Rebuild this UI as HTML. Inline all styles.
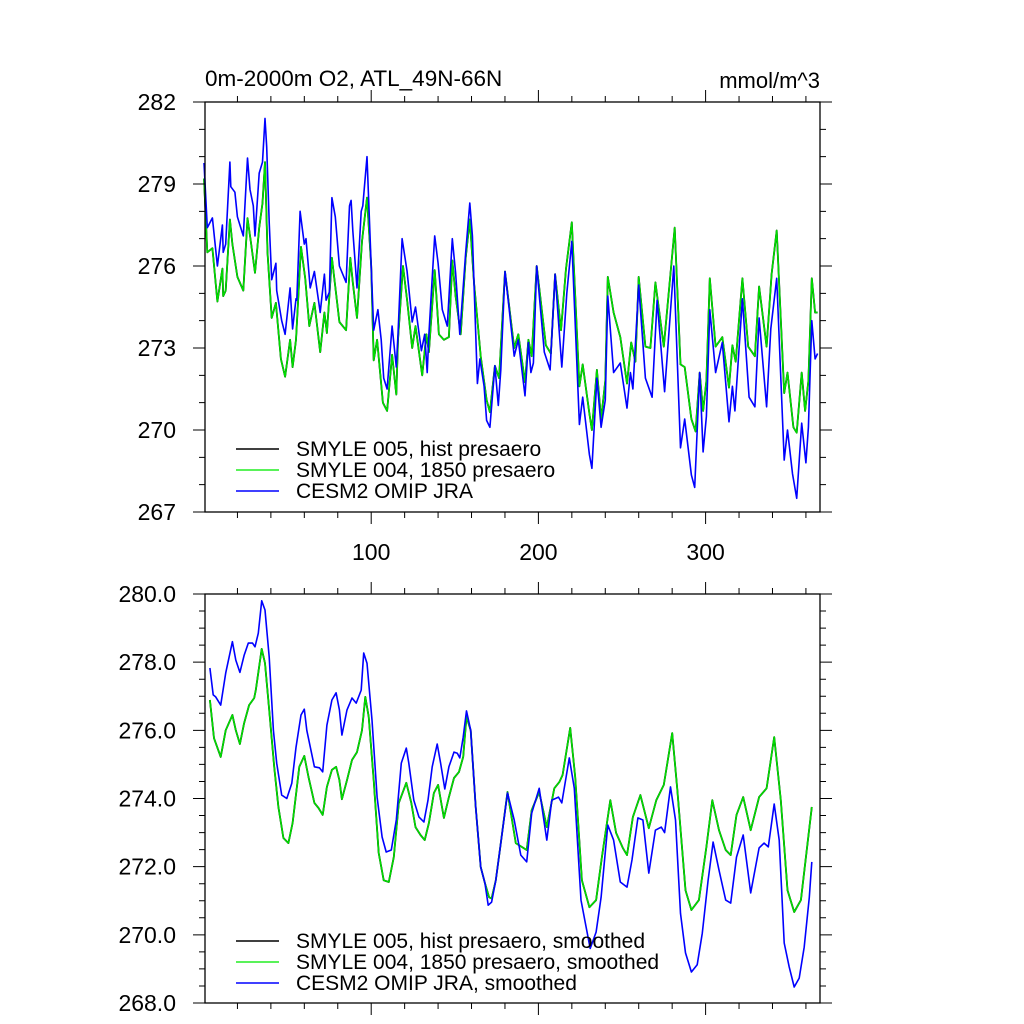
<!DOCTYPE html>
<html><head><meta charset="utf-8"><style>
html,body{margin:0;padding:0;background:#fff;}
svg{display:block;font-family:"Liberation Sans",sans-serif;}
</style></head><body>
<svg id="chart" width="1024" height="1024" viewBox="0 0 1024 1024" xmlns="http://www.w3.org/2000/svg">
<rect width="1024" height="1024" fill="#fff"/>
<text x="205" y="86" font-size="22.5">0m-2000m O2, ATL_49N-66N</text>
<text x="820" y="88" font-size="22" text-anchor="end">mmol/m^3</text>
<g id="top"></g>
<g id="bot"></g>
</svg>
<script>
// ---- Top panel data (day, value) ----
const cesmTopDays=[0,2,5,8,11,11.5,13,15.5,16,18.5,20,21.5,23.5,26,27.5,29.5,30.5,33,35,36.5,37.5,39,40.5,43,43.5,46.5,48.5,51.5,53,55,55.5,57.5,60,61,63.5,66,69.5,72,73,75,76.5,78.5,81,85,87,88,89,91.5,94,95,97.5,100,101.5,104,106,107.5,109.5,112.5,115,116,118.5,121.5,124.5,126.5,130,132,133.5,134.5,138,140,142.5,145.5,148.5,150.5,153,156.5,159,160.5,163.5,165,167.5,169,171,174,176,177.5,180,182.5,185.5,188,192,194,195.5,197,199,203.5,207,210,214,217,220,224.5,226.5,230.5,232,235,237.5,240,241.5,245,249,253,255,256.5,260,264,268,271,275.5,281,285,287.5,291.5,293.5,296.5,298.5,300.5,302.5,306,310,314,316,317.5,322,326,329.5,332,336.5,339,342.5,347,349,352,354.5,357.5,360,361.5,363.5,365.5,367];
const cesmTopVals=[279.77,277.4,277.76,276.0,277.5,276.5,276.8,279.8,278.9,278.7,277.8,277.5,277.1,279.95,278.8,278.2,277.1,279.4,279.8,281.4,280.35,277.6,275.5,276.1,275.1,274.0,273.5,275.2,273.7,274.8,274.75,278.0,276.8,277.0,275.2,275.8,274.3,275.7,274.75,275.05,278.5,277.8,276.0,275.4,278.2,278.4,277.3,275.2,278.0,278.2,280.0,276.0,273.65,274.4,273.3,271.9,271.5,273.8,272.3,273.5,277.0,275.8,273.95,274.5,272.9,273.5,272.1,273.5,277.1,276.1,274.4,273.8,277.0,275.75,273.5,276.5,278.3,277.1,271.7,272.6,271.6,270.35,270.1,272.35,270.9,272.2,275.8,274.45,272.7,273.3,271.25,273.2,272.1,272.45,276.0,272.85,272.2,275.7,272.3,275.0,276.9,270.2,271.2,269.1,268.6,271.9,270.1,271.1,274.9,272.1,272.45,270.8,272.1,271.5,275.3,271.9,271.2,274.75,271.4,276.0,269.35,270.4,268.35,267.9,272.1,269.2,270.5,274.4,272.1,273.2,270.3,271.6,270.7,274.8,271.2,270.85,274.1,270.85,273.7,275.55,268.9,270.0,268.4,267.5,270.25,268.8,270.1,274.0,272.6,272.8];
const smyle004TopDays=[0,2,5,8,11,11.5,13,15.5,17,20,23.5,26,28,30.5,33,35,36.5,38,40.5,43,46,48.5,51.5,53,55,58,60.5,63,66,69.5,72,73.5,76.5,81,85,87.5,89,91.5,94.5,97.5,100,101.5,103.5,107,109.5,112.5,115,116,119,121.5,124.5,126.5,130.5,133,134.5,138,140.5,143.5,146.5,148.5,150.5,153.5,156.5,159,161.5,165.5,169,171,174,176.5,180,185.5,188,192,194,196,199,204.5,207.5,210,213.5,216.5,220,224.5,226.5,230.5,232,235,237.5,240,241.5,245,249,253,255.5,258,260,264,267,270,275,281.5,285,287.5,291.5,294,296.5,298.5,300.5,302.5,306,310,314,316,318,322,325.5,329.5,332,336.5,339.5,342.5,347,349,352.5,354.5,357.5,359.5,361.5,363.5,365.5,367];
const smyle004TopVals=[279.2,276.5,276.65,274.7,275.9,274.9,275.1,277.7,276.8,275.6,275.1,277.75,276.9,275.75,277.4,278.3,279.8,276.5,274.1,274.65,272.6,271.95,273.3,272.3,273.3,276.7,275.55,273.8,274.65,272.85,274.3,273.55,276.3,273.95,273.65,276.3,275.4,274.1,276.9,278.5,276.0,272.55,273.3,271.0,270.7,272.75,271.3,273.3,276.0,274.75,273.0,273.8,272.0,273.5,272.85,275.85,273.5,273.3,273.4,276.2,274.9,273.5,276.3,277.7,275.4,272.7,271.1,270.65,272.35,271.9,275.8,273.0,273.5,271.75,273.3,272.7,276.0,273.1,272.8,275.7,273.65,275.9,277.6,271.6,272.4,270.6,270.0,272.2,270.4,271.8,275.6,274.3,273.4,271.7,273.2,272.5,275.6,273.05,273.0,275.4,273.05,277.4,272.4,272.3,270.4,269.95,272.1,270.7,271.8,275.55,273.05,273.4,271.55,273.1,272.5,275.55,273.05,272.7,275.25,273.05,275.7,277.3,271.35,272.1,270.1,269.9,272.1,270.7,271.8,275.55,274.3,274.3];
const smyle005TopVals=smyle004TopVals.slice();
// ---- Bottom panel (smoothed) ----
const cesmBotDays=[3.5,5.5,7,10,13,17,19,21.5,24,26.5,29,30.5,32.5,34.5,36.5,39,41.5,43.5,46.5,49.5,52.5,55,58,60,61.5,66,69,71,73.5,76.5,79,81,82.5,85.5,88.5,91,94,95.5,97.5,100.5,103.5,106.5,109,112,115,118,121,122.5,125.5,128.5,131.5,134,136.5,139.5,141.5,144,146.5,149.5,151.5,153,155,157,159.5,162.5,165.5,168,170,172,174.5,177.5,181.5,185.5,189.5,193,196,200.5,205,208,212,214,218.5,221.5,225.5,228.5,231,234.5,237.5,241.5,245,249,253,256,259.5,262.5,266,270,273.5,275.5,279,282,285,288,291.5,295,298,301.5,304.5,308,312,315,318.5,322.5,327,332,335,337.5,341,344,347,350,353,356,359,362,363.5];
const cesmBotVals=[277.83,277.04,276.98,276.74,277.68,278.6,278.06,277.7,278.2,278.56,278.56,278.45,278.85,279.8,279.53,278.15,276.0,275.04,274.1,274.0,274.45,275.5,276.45,276.62,276.0,274.93,274.9,274.78,276.15,276.89,277.1,276.6,275.86,276.6,276.95,276.8,277.18,278.27,277.97,276.3,274.04,272.87,272.43,272.49,273.37,275.04,275.48,275.04,273.95,273.46,273.31,273.95,274.93,275.6,275.04,274.28,274.93,275.36,275.33,275.19,275.8,276.57,276.0,273.75,271.99,271.52,270.87,270.96,271.6,272.69,274.16,273.37,272.34,272.14,273.57,274.3,272.78,273.95,274.04,273.87,275.19,274.3,271.02,270.23,269.6,270.08,271.1,273.22,272.78,271.55,271.4,272.2,273.43,273.37,271.81,273.07,273.16,273.0,274.34,273.37,270.63,269.47,268.91,269.12,270.05,271.6,272.72,271.9,271.02,270.93,272.28,272.93,271.23,272.55,272.69,272.58,273.84,272.78,269.76,269.06,268.47,268.73,269.64,271.1,272.14];
const smyle004BotDays=[3.5,6,10,13,17,19,21.5,24,27,30,31,34.5,36.5,39,42,44.5,47.5,50.5,53,57,60,62.5,66,68.5,71,73.5,76.5,79,81,82.5,85.5,88.5,91.5,94.5,96.5,98.5,101.5,104.5,107.5,110.5,113.5,116.5,121,124,126.5,129.5,132,134.5,137.5,140,143.5,146.5,149.5,152.5,155,157,159.5,162.5,165.5,168,170.5,172,174.5,177.5,181.5,186.5,190,193,196,200.5,205,209.5,212.5,214.5,219,222,226,230.5,234.5,238,243,246.5,250.5,253,256.5,261,266,270.5,275,280,283,288,291.5,296,300.5,304,308,312,315,318.5,322.5,327,332,336.5,341,345,349,353,357,363.5];
const smyle004BotVals=[276.89,275.77,275.22,276.0,276.45,276.0,275.6,276.21,276.74,276.95,277.18,278.39,277.97,276.6,274.93,273.75,272.84,272.69,273.28,274.93,275.25,274.63,273.87,273.72,273.52,274.34,274.84,274.93,274.54,273.98,274.54,275.13,275.36,276.0,276.98,276.4,274.54,272.4,271.6,271.55,272.28,273.87,274.46,273.87,273.16,272.93,272.78,273.28,274.16,274.4,273.43,274.04,274.6,274.78,275.22,276.4,276.0,273.75,271.99,271.52,271.1,271.07,271.6,272.69,274.19,272.69,272.58,272.49,273.66,274.19,273.16,274.3,274.48,274.69,276.07,274.63,271.6,270.81,271.02,272.28,273.95,272.99,272.55,272.34,273.46,274.1,273.13,273.95,274.4,275.92,274.3,271.31,270.73,271.02,272.58,273.95,273.07,272.49,272.34,273.52,274.04,273.07,274.04,274.3,275.8,273.95,271.31,270.67,271.02,273.75];
const smyle005BotVals=smyle004BotVals.slice();
const topYTicks=["282","279","276","273","270","267"];
const botYTicks=["280.0","278.0","276.0","274.0","272.0","270.0","268.0"];
const xTickLabels=["100","200","300"];
const topLegend=["SMYLE 005, hist presaero","SMYLE 004, 1850 presaero","CESM2 OMIP JRA"];
const botLegend=["SMYLE 005, hist presaero, smoothed","SMYLE 004, 1850 presaero, smoothed","CESM2 OMIP JRA, smoothed"];

const NS="http://www.w3.org/2000/svg";
const X0=204,XS=1.672,L=205,R=820;
function xs(d){return X0+d*XS;}
function mk(p,tag,a){const e=document.createElementNS(NS,tag);for(const k in a)e.setAttribute(k,a[k]);p.appendChild(e);return e;}

function panel(g,top,bot,ymax,ymin,majStep,minStep,yLabels,showXLabels,series,legend,legY){
  const ys=v=>top+(ymax-v)/(ymax-ymin)*(bot-top);
  series.forEach(s=>{
    let d="";
    s.days.forEach((dd,i)=>{d+=(i?"L":"M")+xs(dd).toFixed(1)+","+ys(s.vals[i]).toFixed(1);});
    const p=mk(g,"path",{d:d,fill:"none",stroke:s.color,"stroke-width":s.w,"stroke-linejoin":"round"});
    
    
  });
  const f=mk(g,"rect",{x:L,y:top,width:R-L,height:bot-top,fill:"none",stroke:"#000","stroke-width":1.3});
  
  
  let t="";
  const n=Math.round((ymax-ymin)/minStep);
  for(let i=0;i<=n;i++){
    const v=ymax-i*minStep,y=ys(v);
    const maj=Math.abs((ymax-v)/majStep-Math.round((ymax-v)/majStep))<1e-6;
    const len=maj?12:6;
    t+=`M${L},${y}H${L-len}M${R},${y}H${R+len}`;
  }
  for(let d=20;d<=360;d+=20){
    const x=xs(d),len=(d%100===0)?12:6;
    t+=`M${x},${top}V${top-len}M${x},${bot}V${bot+len}`;
  }
  const tk=mk(g,"path",{d:t,stroke:"#000","stroke-width":1,fill:"none"});
  
  
  yLabels.forEach((lab,i)=>{
    const v=ymax-i*majStep;
    const e=mk(g,"text",{x:176,y:ys(v)+8,"font-size":23,"text-anchor":"end"});
    e.textContent=lab;
    
    
  });
  if(showXLabels){
    xTickLabels.forEach(lab=>{
      const e=mk(g,"text",{x:xs(+lab),y:bot+48,"font-size":23,"text-anchor":"middle"});
      e.textContent=lab;
      
      
    });
  }
  const cols=["#000","#22ee22","#0000ff"];
  legend.forEach((lab,i)=>{
    const y=legY+i*21;
    const ln=mk(g,"line",{x1:236,x2:279,y1:y,y2:y,stroke:cols[i],"stroke-width":1.5});
    
    
    const e=mk(g,"text",{x:296,y:y+7,"font-size":21});
    e.textContent=lab;
    
    
  });
}
panel(document.getElementById("top"),102,512,282,267,3,1,topYTicks,true,[
  {days:smyle004TopDays,vals:smyle005TopVals,color:"#000",w:1.8,name:"smyle005-line"},
  {days:smyle004TopDays,vals:smyle004TopVals,color:"#00dd00",w:1.6,name:"smyle004-line"},
  {days:cesmTopDays,vals:cesmTopVals,color:"#0000ff",w:1.6,name:"cesm2-line"}
],topLegend,449);
panel(document.getElementById("bot"),594,1003,280,268,2,0.5,botYTicks,false,[
  {days:smyle004BotDays,vals:smyle005BotVals,color:"#000",w:1.8,name:"smyle005-smoothed-line"},
  {days:smyle004BotDays,vals:smyle004BotVals,color:"#00dd00",w:1.6,name:"smyle004-smoothed-line"},
  {days:cesmBotDays,vals:cesmBotVals,color:"#0000ff",w:1.6,name:"cesm2-smoothed-line"}
],botLegend,941);
</script>
</body></html>
